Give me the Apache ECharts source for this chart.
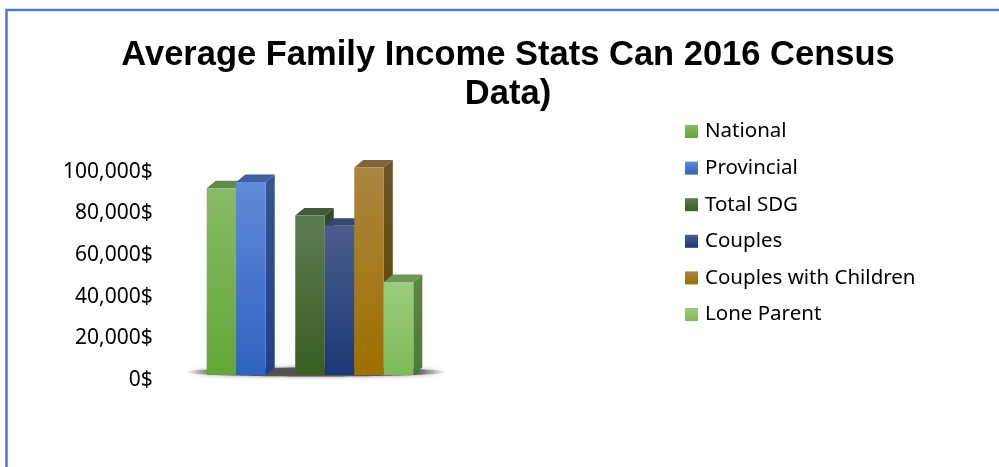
<!DOCTYPE html>
<html><head><meta charset="utf-8">
<script src="https://cdn.jsdelivr.net/npm/echarts@6/dist/echarts.min.js"></script>
<style>html,body{margin:0;padding:0;background:#fff}#c{width:999px;height:467px}</style>
</head><body><div id="c"></div>
<script>
const titleText = 'Average Family Income Stats Can 2016 Census\nData)';
const categories = ['National', 'Provincial', '', 'Total SDG', 'Couples', 'Couples with Children', 'Lone Parent'];
const seriesNames = ['National', 'Provincial', 'Total SDG', 'Couples', 'Couples with Children', 'Lone Parent'];
const seriesSlots = ['National', 'Provincial', 'Total SDG', 'Couples', 'Couples with Children', 'Lone Parent'];
const seriesValues = [92000, 95000, 79000, 74000, 102000, 47000];
const yTickLabels = ['0$', '20,000$', '40,000$', '60,000$', '80,000$', '100,000$'];

const faceColors = [
  {front: ['#87bc67', '#63a737'], top: '#5f8c47', side: ['#507c3b', '#44702e']},
  {front: ['#618ad8', '#2f62c1'], top: '#40609f', side: ['#35568f', '#213f86']},
  {front: ['#5c7c53', '#395f20'], top: '#42593a', side: ['#34492c', '#2b461a']},
  {front: ['#4c5d8d', '#1a3977'], top: '#37476f', side: ['#2d3b61', '#152f5e']},
  {front: ['#aa853f', '#a06f00'], top: '#80633a', side: ['#6e5526', '#5e4200']},
  {front: ['#9ccd7b', '#7dbb58'], top: '#70965b', side: ['#5f8547', '#4f7a36']}
];
const grad = (a, b) => ({type: 'linear', x: 0, y: 0, x2: 0, y2: 1, colorStops: [{offset: 0, color: a}, {offset: 1, color: b}]});

const DX = 9, DY = 7.5, FLOOR = 5;
function makeRender(k) {
  const c = faceColors[k];
  return function (params, api) {
    const slot = api.value(0), v = api.value(1);
    const p = api.coord([slot, v]);
    const b = api.coord([slot, 0]);
    const w = api.size([1, 0])[0];
    const L = p[0] - w / 2, R = p[0] + w / 2, T = p[1], B = b[1] - FLOOR;
    return {type: 'group', children: [
      {type: 'polygon', shape: {points: [[R, T], [R + DX, T - DY], [R + DX, B - DY], [R, B]]}, style: {fill: grad(c.side[0], c.side[1])}},
      {type: 'polygon', shape: {points: [[L, T], [L + DX, T - DY], [R + DX, T - DY], [R, T]]}, style: {fill: c.top}},
      {type: 'rect', shape: {x: L, y: T, width: w, height: B - T}, style: {fill: grad(c.front[0], c.front[1])}}
    ]};
  };
}

const chart = echarts.init(document.getElementById('c'), null, {renderer: 'canvas'});
chart.setOption({
  animation: false,
  backgroundColor: '#fff',
  title: {
    text: titleText, left: 508, top: 35.5, textAlign: 'center', padding: 0,
    textStyle: {fontFamily: 'Liberation Sans', fontWeight: 'bold', fontSize: 34.5, lineHeight: 39, color: '#000'}
  },
  legend: {
    data: seriesNames, orient: 'vertical', left: 685, top: 120.5, padding: 0,
    icon: 'rect', itemWidth: 13, itemHeight: 13, itemGap: 14.6,
    textStyle: {fontFamily: 'Noto Sans', fontSize: 20.5, lineHeight: 22, color: '#000', padding: [0, 0, 0, 2]}
  },
  graphic: [
    {type: 'rect', z: 0, shape: {x: 6.5, y: 10, width: 1100, height: 600}, style: {fill: 'none', stroke: '#4a79cd', lineWidth: 2.5}},
    {type: 'ellipse', z: 1, shape: {cx: 316, cy: 372, rx: 131, ry: 4.5},
      style: {fill: {type: 'linear', x: 0, y: 0, x2: 1, y2: 0, colorStops: [
        {offset: 0, color: 'rgba(110,110,110,0)'}, {offset: 0.12, color: 'rgba(60,60,60,0.8)'},
        {offset: 0.88, color: 'rgba(60,60,60,0.8)'}, {offset: 1, color: 'rgba(110,110,110,0)'}]},
        shadowBlur: 4, shadowColor: 'rgba(0,0,0,0.5)'}}
  ],
  grid: {left: 206.7, width: 206.6, top: 171.7, height: 208.3},
  xAxis: {type: 'category', data: categories, axisLine: {show: false}, axisTick: {show: false}, axisLabel: {show: false}},
  yAxis: {
    type: 'value', min: 0, max: 100000, interval: 20000,
    axisLine: {show: false}, axisTick: {show: false}, splitLine: {show: false},
    axisLabel: {margin: 54, padding: [4, 0, 0, 0], fontFamily: 'Noto Sans', fontSize: 21, color: '#000', formatter: (v, i) => yTickLabels[i]}
  },
  series: seriesNames.map((name, k) => ({
    type: 'custom', name: name, z: 2,
    itemStyle: {color: grad(faceColors[k].front[0], faceColors[k].front[1])},
    renderItem: makeRender(k),
    data: [[seriesSlots[k], seriesValues[k]]]
  }))
});
</script></body></html>
